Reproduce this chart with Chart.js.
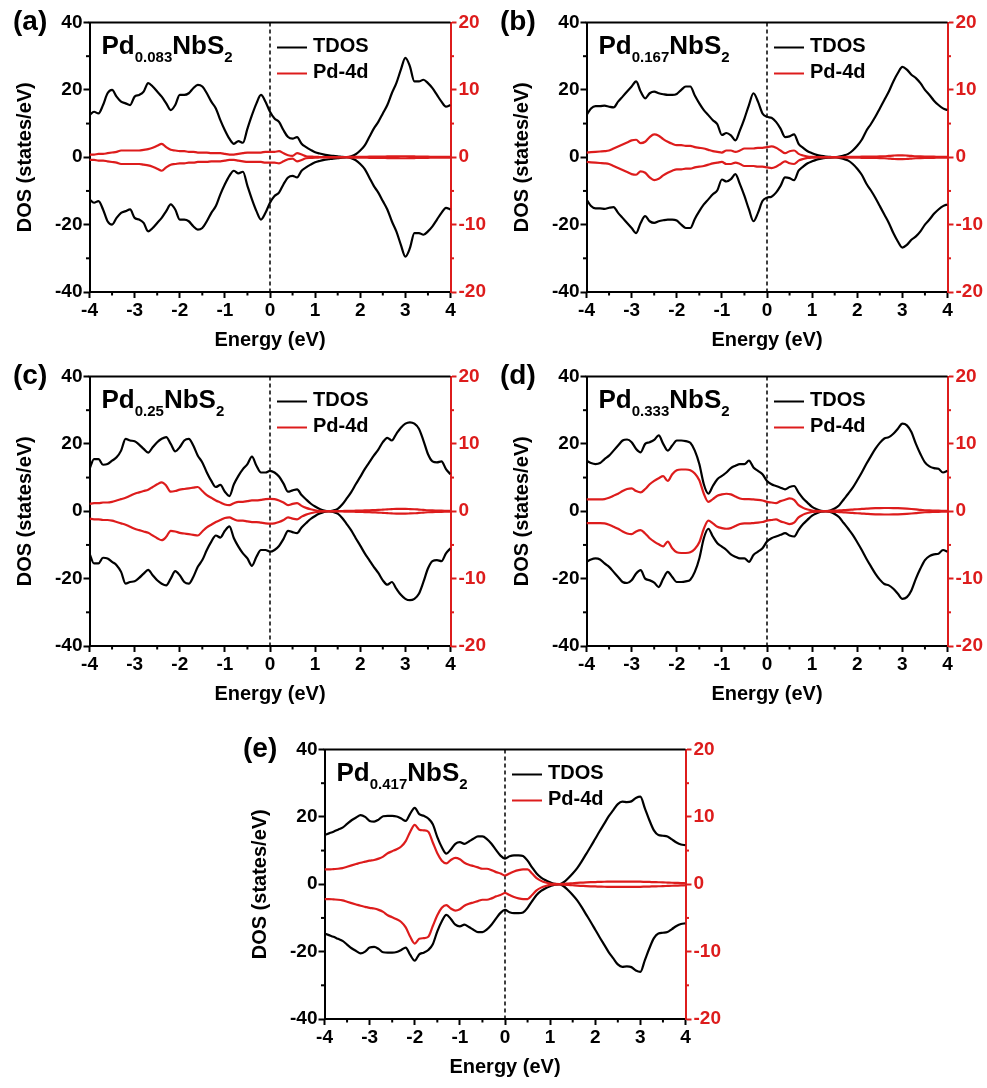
<!DOCTYPE html>
<html>
<head>
<meta charset="utf-8">
<title>DOS of PdxNbS2</title>
<script src="https://cdn.jsdelivr.net/npm/chart.js@4.4.1/dist/chart.umd.min.js"></script>
<style>
  html, body { margin: 0; background: #fff; overflow: hidden; }
  #fig { position: relative; width: 987px; height: 1088px; }
  #fig canvas { position: absolute; }
</style>
</head>
<body>
<div id="fig">
  <canvas id="pa" width="488" height="362" style="left:0;top:0"></canvas>
  <canvas id="pb" width="488" height="362" style="left:497px;top:0"></canvas>
  <canvas id="pc" width="488" height="362" style="left:0;top:354px"></canvas>
  <canvas id="pd" width="488" height="362" style="left:497px;top:354px"></canvas>
  <canvas id="pe" width="488" height="362" style="left:235px;top:727px"></canvas>
</div>
<script>
// energy grid (eV), shared by every panel
const energy = [
  -4.0, -3.9, -3.8, -3.7, -3.6, -3.5, -3.4, -3.3, -3.2, -3.1,
  -3.0, -2.9, -2.8, -2.7, -2.6, -2.5, -2.4, -2.3, -2.2, -2.1,
  -2.0, -1.9, -1.8, -1.7, -1.6, -1.5, -1.4, -1.3, -1.2, -1.1,
  -1.0, -0.9, -0.8, -0.7, -0.6, -0.5, -0.4, -0.3, -0.2, -0.1,
   0.0,  0.1,  0.2,  0.3,  0.4,  0.5,  0.6,  0.7,  0.8,  0.9,
   1.0,  1.1,  1.2,  1.3,  1.4,  1.5,  1.6,  1.7,  1.8,  1.9,
   2.0,  2.1,  2.2,  2.3,  2.4,  2.5,  2.6,  2.7,  2.8,  2.9,
   3.0,  3.1,  3.2,  3.3,  3.4,  3.5,  3.6,  3.7,  3.8,  3.9,
   4.0];

const energyTicks = [-4, -3, -2, -1, 0, 1, 2, 3, 4];
const energyMinor = [-3.5, -2.5, -1.5, -0.5, 0.5, 1.5, 2.5, 3.5];
const dosTicks = [-40, -20, 0, 20, 40];
const dosMinor = [-30, -10, 10, 30];
const pdTicks = [-20, -10, 0, 10, 20];
const pdMinor = [-15, -5, 5, 15];

// spin-up channel (states/eV); spin-down is the same magnitude, drawn negative
const tdosA = [
  12.5, 13.5, 13.0, 15.5, 19.0, 20.0, 18.0, 16.5, 16.0, 15.5,
  18.0, 18.5, 19.5, 22.0, 21.0, 19.5, 18.0, 16.0, 14.0, 15.5,
  18.5, 18.5, 19.0, 20.5, 21.5, 21.0, 19.0, 16.5, 14.5, 11.0,
   8.0,  5.5,  4.0,  4.8,  4.3,  8.5, 12.5, 16.0, 18.5, 16.5,
  13.5, 11.5, 10.5,  8.0,  6.0,  5.5,  6.0,  4.0,  3.0,  2.2,
   1.5,  1.1,  0.8,  0.6,  0.4,  0.3,  0.1,  0.0,  0.3,  0.9,
   2.0,  3.5,  6.0,  8.5, 10.5, 13.0, 15.5, 19.0, 22.0, 26.0,
  29.5, 27.0, 22.5, 22.5, 23.0, 22.0, 20.5, 18.5, 16.5, 15.0,
  15.5];
const pd4dA = [
  0.4, 0.4, 0.5, 0.5, 0.6, 0.7, 0.8, 1.0, 1.0, 1.0,
  1.0, 1.0, 1.1, 1.2, 1.4, 1.7, 2.0, 1.5, 1.1, 1.0,
  0.9, 0.9, 0.8, 0.8, 0.7, 0.7, 0.7, 0.6, 0.6, 0.6,
  0.5, 0.4, 0.4, 0.5, 0.6, 0.7, 0.7, 0.7, 0.7, 0.8,
  0.8, 0.8, 0.9, 0.6, 0.3, 0.2, 0.6, 0.4, 0.15, 0.1,
  0.05, 0.04, 0.03, 0.02, 0.02, 0.02, 0.03, 0.04, 0.05, 0.05,
  0.06, 0.07, 0.08, 0.09, 0.1, 0.11, 0.12, 0.13, 0.14, 0.15,
  0.15, 0.14, 0.12, 0.1, 0.09, 0.08, 0.07, 0.06, 0.06, 0.05,
  0.05];

const tdosB = [
  12.5, 14.5, 15.2, 15.2, 15.3, 15.0, 14.8, 16.5, 18.0, 19.5,
  21.0, 22.5, 19.5, 17.5, 19.0, 19.5, 19.0, 18.7, 18.5, 18.5,
  18.8, 20.0, 21.0, 21.0, 18.3, 16.0, 14.0, 12.5, 11.0,  9.8,
   6.6,  7.2,  6.5,  5.0,  8.0, 11.5, 15.5, 19.0, 16.5, 13.0,
  12.0, 11.7, 10.5,  8.5,  6.0,  6.2,  6.8,  4.0,  2.8,  1.8,
   1.2,  0.7,  0.4,  0.2,  0.1,  0.0,  0.2,  0.5,  1.0,  2.0,
   3.4,  5.2,  7.8,  9.8, 12.0, 14.5, 17.0, 19.5, 22.5, 25.0,
  26.8, 26.0, 24.5, 23.5, 22.0, 20.0, 18.5, 16.8, 15.5, 14.5,
  14.0];
const pd4dB = [
  0.7, 0.75, 0.8, 0.85, 0.9, 1.0, 1.3, 1.6, 1.9, 2.2,
  2.5, 2.6, 2.1, 2.3, 3.0, 3.4, 3.2, 2.7, 2.3, 2.0,
  1.8, 1.8, 1.7, 1.7, 1.5, 1.4, 1.3, 1.1, 0.9, 0.8,
  0.7, 1.0, 1.0, 0.8, 1.0, 1.3, 1.3, 1.3, 1.4, 1.4,
  1.5, 1.6, 1.4, 1.0, 0.6, 0.9, 1.0, 0.5, 0.25, 0.1,
  0.05, 0.04, 0.03, 0.02, 0.02, 0.02, 0.03, 0.04, 0.05, 0.06,
  0.07, 0.08, 0.09, 0.1, 0.11, 0.12, 0.15, 0.2, 0.25, 0.28,
  0.28, 0.25, 0.2, 0.15, 0.12, 0.1, 0.09, 0.08, 0.07, 0.06,
  0.06];

const tdosC = [
  12.5, 15.5, 15.5, 13.8, 14.0, 15.0, 16.0, 18.0, 21.5, 21.0,
  20.8, 19.8, 18.5, 17.4, 19.0, 20.5, 21.5, 22.0, 20.0, 17.8,
  19.0, 21.0, 21.5, 19.5, 16.5, 14.5, 11.5,  9.0,  7.2,  7.8,
   5.8,  4.5,  8.0, 10.5, 12.5, 14.0, 16.2, 13.5, 11.5, 11.5,
  12.0, 11.5, 10.3,  8.2,  5.8,  6.2,  6.5,  4.8,  3.5,  2.3,
   1.4,  0.7,  0.2,  0.0,  0.2,  0.7,  2.0,  3.8,  5.7,  8.0,
  10.2, 12.5, 14.5, 16.5, 18.3, 20.5, 21.8, 21.0, 23.0, 24.8,
  26.0, 26.4, 26.0, 24.5, 21.0, 17.0, 14.8, 14.5, 14.8, 12.5,
  11.0];
const pd4dC = [
  1.1, 1.2, 1.2, 1.3, 1.3, 1.4, 1.6, 1.8, 2.0, 2.3,
  2.6, 2.8, 3.0, 3.2, 3.6, 4.0, 4.3, 3.8, 2.9, 3.0,
  3.2, 3.3, 3.4, 3.5, 3.6, 3.0, 2.4, 2.0, 1.6, 1.3,
  1.0, 0.9, 1.2, 1.4, 1.4, 1.5, 1.6, 1.6, 1.7, 1.8,
  1.85, 1.8, 1.6, 1.3, 0.9, 1.1, 1.2, 0.8, 0.5, 0.3,
  0.15, 0.05, 0.02, 0.02, 0.02, 0.03, 0.04, 0.05, 0.06, 0.08,
  0.1, 0.12, 0.14, 0.17, 0.2, 0.24, 0.28, 0.32, 0.35, 0.35,
  0.35, 0.33, 0.3, 0.25, 0.2, 0.15, 0.12, 0.1, 0.08, 0.07,
  0.06];

const tdosD = [
  15.0, 14.3, 14.0, 14.3, 15.5, 16.5, 18.0, 19.5, 21.0, 21.3,
  20.5, 18.5, 17.5, 20.0, 20.5, 21.2, 22.5, 20.0, 18.0, 19.5,
  21.0, 21.0, 20.8, 20.3, 18.0, 14.0,  8.0,  5.2,  7.5,  9.5,
  10.5, 11.5, 12.8, 13.5, 14.0, 14.0, 15.0, 13.0, 12.0, 11.0,
   9.0,  8.0,  7.5,  7.0,  6.5,  7.2,  7.5,  5.5,  3.8,  2.5,
   1.3,  0.6,  0.1,  0.0,  0.2,  0.8,  1.8,  3.5,  5.2,  7.0,
   9.2, 11.5, 14.0, 16.3, 18.5, 20.3, 21.6, 22.0, 23.0, 24.5,
  26.0, 25.5, 23.5, 20.0, 17.0, 14.5, 13.3, 12.8, 12.6, 11.5,
  12.0];
const pd4dD = [
  1.75, 1.75, 1.75, 1.75, 1.8, 2.0, 2.3, 2.6, 3.0, 3.3,
  3.4, 3.0, 2.8, 3.3, 4.0, 4.5, 4.9, 5.2, 4.5, 5.5,
  6.1, 6.2, 6.2, 6.1, 5.6, 4.6, 2.6, 1.4, 1.8, 2.3,
  2.5, 2.6, 2.5, 2.2, 1.9, 1.8, 1.8, 1.75, 1.7, 1.6,
  1.4, 1.3, 1.2, 1.5, 1.7, 1.9, 1.7, 0.9, 0.5, 0.25,
  0.1, 0.05, 0.03, 0.03, 0.05, 0.08, 0.12, 0.16, 0.2, 0.25,
  0.3, 0.34, 0.38, 0.42, 0.45, 0.47, 0.48, 0.48, 0.47, 0.45,
  0.42, 0.38, 0.33, 0.27, 0.2, 0.15, 0.12, 0.1, 0.08, 0.07,
  0.06];

const tdosE = [
  14.6, 15.1, 15.6, 16.2, 16.8, 17.9, 19.0, 19.8, 20.5, 20.0,
  18.8, 18.6, 19.2, 20.2, 20.3, 20.3, 20.1, 19.5, 18.8, 21.0,
  22.7, 20.8, 20.3, 19.5, 17.8, 14.0, 11.0,  9.1, 10.3, 12.0,
  12.5, 12.0, 12.7, 13.5, 14.2, 14.2, 13.4, 12.0, 10.2,  8.5,
   7.6,  8.3,  8.6,  8.6,  8.4,  7.0,  5.0,  3.2,  2.0,  1.2,
   0.6,  0.1,  0.0,  0.6,  1.8,  3.2,  4.8,  6.8,  9.0, 11.2,
  13.5, 15.8, 18.0, 20.2, 22.0, 23.8, 24.5, 24.4, 24.6, 25.6,
  26.0, 22.5, 19.0, 16.0, 14.6, 14.4, 14.2, 13.3, 12.4, 11.8,
  11.6];
const pd4dE = [
  2.2, 2.2, 2.25, 2.3, 2.4, 2.6, 2.8, 3.0, 3.2, 3.35,
  3.5, 3.6, 3.8, 4.1, 4.6, 4.9, 5.2, 5.6, 6.4, 7.8,
  8.8, 8.1, 8.0, 7.8, 6.2, 4.6, 3.5, 3.1, 3.6, 3.9,
  3.7, 3.2, 2.9, 2.7, 2.5, 2.3, 2.3, 2.1, 1.8, 1.6,
  1.3, 1.6, 1.9, 2.1, 2.2, 2.2, 1.6, 0.9, 0.5, 0.25,
  0.1, 0.05, 0.02, 0.05, 0.1, 0.15, 0.2, 0.24, 0.28, 0.31,
  0.33, 0.35, 0.37, 0.38, 0.39, 0.4, 0.4, 0.4, 0.4, 0.39,
  0.38, 0.36, 0.34, 0.32, 0.3, 0.28, 0.25, 0.22, 0.2, 0.18,
  0.15];

const panels = [
  { id: "pa", letter: "(a)", letterX: 13, sub: "0.083", tdos: tdosA, pd: pd4dA },
  { id: "pb", letter: "(b)", letterX: 3,  sub: "0.167", tdos: tdosB, pd: pd4dB },
  { id: "pc", letter: "(c)", letterX: 13, sub: "0.25",  tdos: tdosC, pd: pd4dC },
  { id: "pd", letter: "(d)", letterX: 3,  sub: "0.333", tdos: tdosD, pd: pd4dD },
  { id: "pe", letter: "(e)", letterX: 8,  sub: "0.417", tdos: tdosE, pd: pd4dE },
];

const BLACK = "#000", RED = "#dd1c1c";
const FAMILY = "'Liberation Sans', Arial, sans-serif";
const tickFont = { family: FAMILY, size: 19, weight: "bold" };
const titleFont = { family: FAMILY, size: 20, weight: "bold" };

// ── extras: E_F line, top frame, minor ticks, legend, formula, panel letter ──
const decor = {
  id: "decor",
  beforeDatasetsDraw(chart) {
    const { ctx, chartArea: a, scales: { x } } = chart;
    const x0 = x.getPixelForValue(0);
    ctx.save();
    ctx.strokeStyle = BLACK; ctx.lineWidth = 1.5; ctx.setLineDash([4, 3]);
    ctx.beginPath(); ctx.moveTo(x0, a.top); ctx.lineTo(x0, a.bottom); ctx.stroke();
    ctx.restore();
  },
  afterDraw(chart, args, opts) {
    const { ctx, chartArea: a, scales: { x, y, y1 } } = chart;
    const seg = (x1, y1_, x2, y2, color) => {
      ctx.strokeStyle = color; ctx.beginPath(); ctx.moveTo(x1, y1_); ctx.lineTo(x2, y2); ctx.stroke();
    };
    ctx.save();
    ctx.lineWidth = 2;
    seg(a.left - 1, a.top, a.right, a.top, BLACK);
    energyMinor.forEach(v => { const p = x.getPixelForValue(v); seg(p, a.bottom, p, a.bottom + 3.5, BLACK); });
    dosMinor.forEach(v => { const p = y.getPixelForValue(v); seg(a.left - 3.5, p, a.left, p, BLACK); });
    pdMinor.forEach(v => { const p = y1.getPixelForValue(v); seg(a.right, p, a.right + 3.5, p, RED); });

    // legend next to the Fermi level
    const lx = x.getPixelForValue(0) + 7;
    [["TDOS", 25], ["Pd-4d", 51]].forEach(([label, dy]) => {
      const ds = chart.data.datasets.find(d => d.label === label);
      seg(lx, a.top + dy, lx + 30, a.top + dy, ds.borderColor);
      ctx.fillStyle = BLACK; ctx.font = `bold 20px ${FAMILY}`; ctx.textBaseline = "middle";
      ctx.fillText(label, lx + 36, a.top + dy - 1.5);
    });

    // compound name with subscripts
    ctx.textBaseline = "alphabetic";
    let fx = a.left + 12;
    const fy = a.top + 31;
    [["Pd", 26, 0], [opts.sub, 15, 8], ["NbS", 26, 0], ["2", 15, 8]].forEach(([t, size, drop]) => {
      ctx.font = `bold ${size}px ${FAMILY}`;
      ctx.fillText(t, fx, fy + drop);
      fx += ctx.measureText(t).width;
    });

    ctx.font = `bold 28px ${FAMILY}`;
    ctx.fillText(opts.letter, opts.letterX, 30);
    ctx.restore();
  },
};

const fixTicks = list => scale => { scale.ticks = list.map(v => ({ value: v })); };

function series(label, vals, sign, axis, color) {
  return {
    label, yAxisID: axis, borderColor: color, borderWidth: 2.2, pointRadius: 0,
    cubicInterpolationMode: "monotone", order: color === RED ? 0 : 1,
    data: energy.map((e, i) => ({ x: e, y: sign * vals[i] })),
  };
}

panels.forEach(p => {
  new Chart(document.getElementById(p.id), {
    type: "line",
    data: {
      datasets: [
        series("TDOS", p.tdos, 1, "y", BLACK),
        series("TDOS down", p.tdos, -1, "y", BLACK),
        series("Pd-4d", p.pd, 1, "y1", RED),
        series("Pd-4d down", p.pd, -1, "y1", RED),
      ],
    },
    options: {
      responsive: false, animation: false, events: [], devicePixelRatio: 1,
      layout: { padding: { top: 22.5, left: 0, right: 0, bottom: 0 } },
      plugins: { legend: { display: false }, tooltip: { enabled: false },
                 decor: { letter: p.letter, letterX: p.letterX, sub: p.sub } },
      scales: {
        x: {
          type: "linear", position: "bottom", min: -4, max: 4,
          afterBuildTicks: fixTicks(energyTicks), afterFit: s => { s.height = 70; },
          ticks: { color: BLACK, font: tickFont, padding: 1, maxRotation: 0 },
          grid: { drawOnChartArea: false, tickLength: 6, tickWidth: 2, tickColor: BLACK },
          border: { color: BLACK, width: 2 },
          title: { display: true, text: "Energy (eV)", color: BLACK, font: titleFont, padding: { top: 0, bottom: 10 } },
        },
        y: {
          position: "left", min: -40, max: 40,
          afterBuildTicks: fixTicks(dosTicks), afterFit: s => { s.width = 89.5; },
          ticks: { color: BLACK, font: tickFont, padding: 1 },
          grid: { drawOnChartArea: false, tickLength: 6, tickWidth: 2, tickColor: BLACK },
          border: { color: BLACK, width: 2 },
          title: { display: true, text: "DOS (states/eV)", color: BLACK, font: titleFont, padding: { top: 13, bottom: 0 } },
        },
        y1: {
          position: "right", min: -20, max: 20,
          afterBuildTicks: fixTicks(pdTicks), afterFit: s => { s.width = 37.5; },
          ticks: { color: RED, font: tickFont, padding: 2 },
          grid: { drawOnChartArea: false, tickLength: 6, tickWidth: 2, tickColor: RED },
          border: { color: RED, width: 2 },
        },
      },
    },
    plugins: [decor],
  });
});
</script>
</body>
</html>
